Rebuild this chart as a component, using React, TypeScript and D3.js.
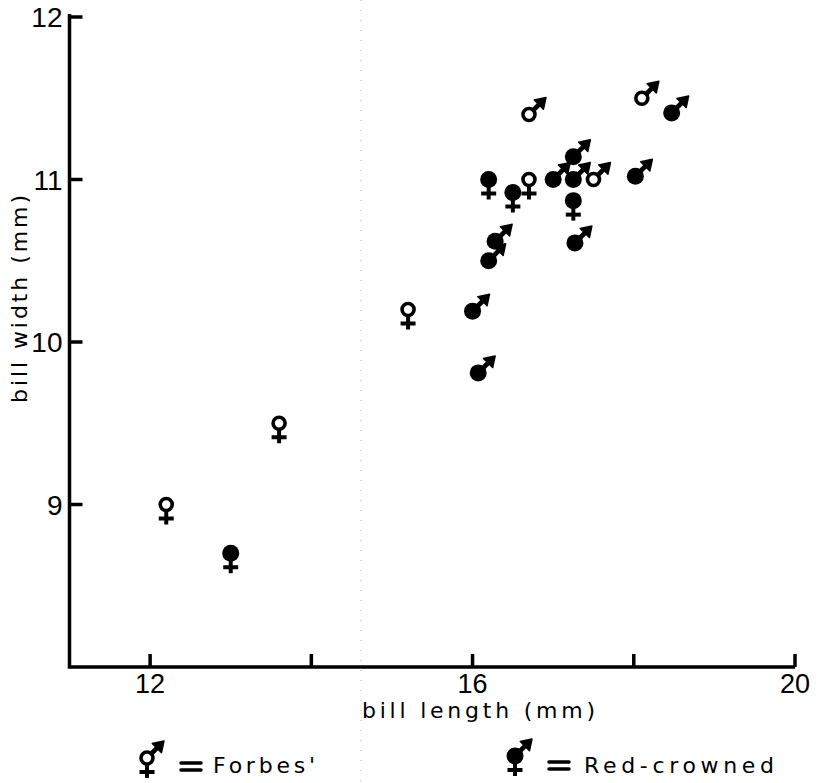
import React from "react";
import * as d3 from "d3";

// Forbes' (open symbols)
const forbesFemaleX = [12.2, 13.6, 15.2, 16.7];
const forbesFemaleY = [9.0, 9.5, 10.2, 11.0];
const forbesMaleX = [16.7, 18.1, 17.5];
const forbesMaleY = [11.4, 11.5, 11.0];

// Red-crowned (filled symbols)
const redFemaleX = [13.0, 16.2, 16.5, 17.25];
const redFemaleY = [8.7, 11.0, 10.92, 10.87];
const redMaleX = [18.47, 17.25, 17.0, 17.25, 18.02, 16.28, 16.2, 17.27, 16.0, 16.07];
const redMaleY = [11.41, 11.14, 11.0, 11.0, 11.02, 10.62, 10.5, 10.61, 10.19, 9.81];

const xTicks = [12, 14, 16, 18, 20];
const xTickLabels = ["12", "", "16", "", "20"];
const yTicks = [9, 10, 11, 12];
const yTickLabels = ["9", "10", "11", "12"];

const W = 817;
const H = 783;

const x = d3.scaleLinear().domain([11, 20]).range([69.5, 795]);
const y = d3.scaleLinear().domain([8, 12]).range([667, 17]);

type SymProps = { cx: number; cy: number; filled: boolean; female?: boolean; male?: boolean };

function Sym({ cx, cy, filled, female, male }: SymProps) {
  const r = filled ? 8.5 : 6;
  const parts: React.ReactNode[] = [];
  if (female) {
    parts.push(
      <line key="stem" x1={cx} y1={cy} x2={cx} y2={cy + 20} stroke="#000" strokeWidth={4} />
    );
    parts.push(
      <line key="bar" x1={cx - 7.5} y1={cy + 14} x2={cx + 7.5} y2={cy + 14} stroke="#000" strokeWidth={4} />
    );
  }
  if (male) {
    const d = Math.SQRT1_2;
    const tipD = 24;
    const headL = 10;
    const headW = 6.5;
    const tx = cx + tipD * d;
    const ty = cy - tipD * d;
    const bx = cx + (tipD - headL) * d;
    const by = cy - (tipD - headL) * d;
    const p1x = bx + headW * d;
    const p1y = by + headW * d;
    const p2x = bx - headW * d;
    const p2y = by - headW * d;
    parts.push(
      <line key="shaft" x1={cx} y1={cy} x2={bx + 1} y2={by - 1} stroke="#000" strokeWidth={4.8} />
    );
    parts.push(
      <path key="head" d={`M${tx},${ty}L${p1x},${p1y}L${p2x},${p2y}Z`} fill="#000" stroke="#000" strokeWidth={1.5} strokeLinejoin="round" />
    );
  }
  parts.push(
    filled ? (
      <circle key="c" cx={cx} cy={cy} r={r} fill="#000" />
    ) : (
      <circle key="c" cx={cx} cy={cy} r={r} fill="#fff" stroke="#000" strokeWidth={3.6} />
    )
  );
  return <g>{parts}</g>;
}

export default function App() {
  const titleFont = "'DejaVu Sans', 'Open Sans', sans-serif";
  const tickFont = "'Liberation Sans', Arial, sans-serif";
  return (
    <svg
      width={W}
      height={H}
      viewBox={`0 0 ${W} ${H}`}
      style={{ position: "absolute", left: 0, top: 0, background: "#fff" }}
    >
      <rect x={0} y={0} width={W} height={H} fill="#fff" />
      {/* faint scan fold line */}
      <line x1={361} y1={0} x2={361} y2={H} stroke="#aaa" strokeWidth={1} strokeDasharray="1 9" />

      {/* axes */}
      <path
        d={`M${x(11)},${y(12) - 3}L${x(11)},${y(8)}L${x(20)},${y(8)}`}
        fill="none"
        stroke="#000"
        strokeWidth={3.5}
        strokeLinejoin="miter"
      />
      {yTicks.map((t, i) => (
        <g key={"yt" + t}>
          <line x1={x(11)} y1={y(t)} x2={x(11) + 13} y2={y(t)} stroke="#000" strokeWidth={3.5} />
          <text
            x={x(11) - 7}
            y={y(t) + 10}
            textAnchor="end"
            fontFamily={tickFont}
            fontSize={28}
            fill="#000"
          >
            {yTickLabels[i]}
          </text>
        </g>
      ))}
      {xTicks.map((t, i) => (
        <g key={"xt" + t}>
          <line x1={x(t)} y1={y(8)} x2={x(t)} y2={y(8) - 13} stroke="#000" strokeWidth={3.5} />
          <text
            x={x(t)}
            y={693}
            textAnchor="middle"
            fontFamily={tickFont}
            fontSize={27}
            fill="#000"
          >
            {xTickLabels[i]}
          </text>
        </g>
      ))}

      {/* axis titles */}
      <text
        x={362}
        y={718}
        fontFamily={titleFont}
        fontSize={22}
        textLength={233}
        lengthAdjust="spacing"
        fill="#000"
      >
        bill length (mm)
      </text>
      <text
        transform={`translate(27,403) rotate(-90)`}
        x={0}
        y={0}
        fontFamily={titleFont}
        fontSize={22}
        textLength={208}
        lengthAdjust="spacing"
        fill="#000"
      >
        bill width (mm)
      </text>

      {/* data */}
      {forbesFemaleX.map((v, i) => (
        <Sym key={"ff" + i} cx={x(v)} cy={y(forbesFemaleY[i])} filled={false} female />
      ))}
      {forbesMaleX.map((v, i) => (
        <Sym key={"fm" + i} cx={x(v)} cy={y(forbesMaleY[i])} filled={false} male />
      ))}
      {redMaleX.map((v, i) => (
        <Sym key={"rm" + i} cx={x(v)} cy={y(redMaleY[i])} filled male />
      ))}
      {redFemaleX.map((v, i) => (
        <Sym key={"rf" + i} cx={x(v)} cy={y(redFemaleY[i])} filled female />
      ))}

      {/* legend */}
      <Sym cx={147} cy={758} filled={false} female male />
      <line x1={181} y1={763} x2={201} y2={763} stroke="#000" strokeWidth={3.5} strokeLinecap="round" />
      <line x1={181} y1={770} x2={201} y2={770} stroke="#000" strokeWidth={3.5} strokeLinecap="round" />
      <text x={213} y={773} fontFamily={titleFont} fontSize={22} textLength={102} lengthAdjust="spacing" fill="#000">
        Forbes'
      </text>

      <Sym cx={515} cy={756} filled female male />
      <line x1={549} y1={762} x2={569} y2={762} stroke="#000" strokeWidth={3.5} strokeLinecap="round" />
      <line x1={549} y1={769} x2={569} y2={769} stroke="#000" strokeWidth={3.5} strokeLinecap="round" />
      <text x={584} y={773} fontFamily={titleFont} fontSize={22} textLength={190} lengthAdjust="spacing" fill="#000">
        Red-crowned
      </text>
    </svg>
  );
}
